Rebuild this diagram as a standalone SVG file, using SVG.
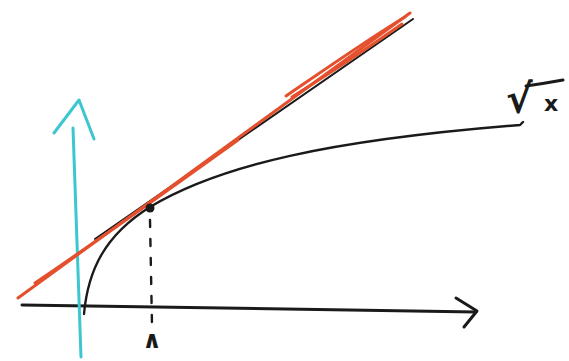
<svg xmlns="http://www.w3.org/2000/svg" width="569" height="361" viewBox="0 0 569 361">
<style>
.ink{fill:none;stroke:#1a1a1a;stroke-linecap:round;stroke-linejoin:round}
.red{fill:none;stroke:#e4502d;stroke-linecap:round;stroke-width:3}
.cyan{fill:none;stroke:#3cc6d0;stroke-linecap:round;stroke-linejoin:round;stroke-width:3}
.lbl{font-family:"DejaVu Sans",sans-serif;fill:#1a1a1a}
</style>
<rect width="569" height="361" fill="#ffffff"/>
<g id="connectors">
  <path class="ink" stroke-width="3" d="M22,305 L476,312"/>
  <path class="ink" stroke-width="3" d="M456,298 L477,311 L464,327"/>
  <path class="cyan" d="M73,128 L81,357"/>
  <path class="cyan" d="M54,133 L79,100 L94,139"/>
  <path class="ink" stroke-width="2.4" d="M84,314 C88,270 105,235 150,207 C220,165 330,140 520,125 L523,122"/>
  <path class="ink" stroke-width="2" d="M95,239 L413,19"/>
  <path class="red" d="M18,298 L410,13"/>
  <path class="red" d="M35,283 C90,246 160,196 238,140"/>
  <path class="red" stroke-width="2.5" d="M286,96 C330,66 370,38 405,17"/>
  <path class="red" stroke-width="2" d="M292,97 C335,70 372,45 402,24"/>
  <path class="ink" stroke-width="2.4" stroke-dasharray="7 12" d="M150,220 L152,325"/>
</g>
<g id="point">
  <circle cx="150" cy="208" r="4.5" fill="#1a1a1a"/>
</g>
<g id="label-sqrt">
  <text class="lbl" x="506" y="113" font-size="40" font-weight="bold">√</text>
  <path class="ink" stroke-width="3" d="M526,86 C540,84 552,82 563,80"/>
  <text class="lbl" x="544" y="111" font-size="22" font-weight="bold">x</text>
</g>
<g id="label-one">
  <text class="lbl" x="152" y="348" font-size="24" font-weight="bold" text-anchor="middle">∧</text>
</g>
</svg>
